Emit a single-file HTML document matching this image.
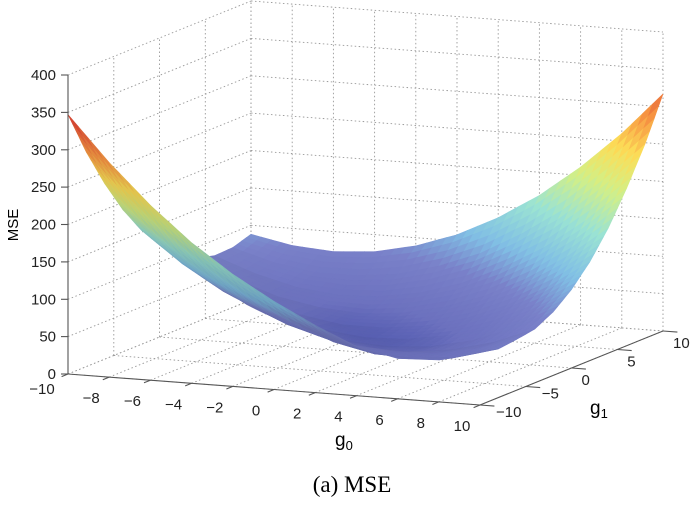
<!DOCTYPE html>
<html><head><meta charset="utf-8"><style>
body{margin:0;background:#fff}
svg{display:block;font-family:"Liberation Sans",sans-serif}
</style></head><body>
<svg id="chart" width="700" height="522" viewBox="0 0 700 522" xmlns="http://www.w3.org/2000/svg">
<g id="grid"></g>
<g id="surf"></g>
<g id="axes"></g>
<text x="18" y="225" font-size="15" text-anchor="middle" transform="rotate(-90 18 225)">MSE</text>
<text x="335" y="446" font-size="19">g<tspan font-size="13" dy="4">0</tspan></text>
<text x="590" y="414" font-size="19">g<tspan font-size="13" dy="4">1</tspan></text>
<text x="352" y="492" font-size="23" text-anchor="middle" font-family="Liberation Serif, serif">(a) MSE</text>
</svg>
<script>
const g0Values=[-10,-8,-6,-4,-2,0,2,4,6,8,10];
const g1Values=[-10,-8,-6,-4,-2,0,2,4,6,8,10];
// rows: g1 from -10 to 10; columns: g0 from -10 to 10
const mseGrid=[
[347,287,234,188,150,118,90,66,54,56,72],
[287,232,184,143,108,80,58,46,44,50,65],
[235,184,141,106,78,57,44,39,41,51,68],
[190,145,107,76,53,37,29,29,36,50,72],
[153,112,79,54,36,25,22,26,38,58,85],
[123,88,59,39,26,20,22,31,48,73,105],
[101,70,47,32,23,23,30,44,66,95,132],
[86,61,42,32,28,33,45,64,91,125,167],
[79,59,45,39,41,50,67,92,123,163,210],
[80,64,55,55,61,76,97,127,163,208,259],
[88,77,73,77,89,108,135,169,211,260,317]];
const zTicks=[0,50,100,150,200,250,300,350,400];
const g0Ticks=[-10,-8,-6,-4,-2,0,2,4,6,8,10];
const g1Ticks=[-10,-5,0,5,10];

const NS="http://www.w3.org/2000/svg";
const O=[68,374],U=[412,31],V=[183,-74],W=[0,-299];
function P(a,b,z){const u=(a+10)/20,v=(b+10)/20,w=z/400;
 return [O[0]+U[0]*u+V[0]*v+W[0]*w,O[1]+U[1]*u+V[1]*v+W[1]*w];}
function mk(tag,attrs,parent){const e=document.createElementNS(NS,tag);for(const k in attrs)e.setAttribute(k,attrs[k]);parent.appendChild(e);return e;}
const grid=document.getElementById('grid'),axes=document.getElementById('axes'),surf=document.getElementById('surf');
function line(p,q,par,st){return mk('line',Object.assign({x1:p[0].toFixed(1),y1:p[1].toFixed(1),x2:q[0].toFixed(1),y2:q[1].toFixed(1)},st),par);}
const dot={stroke:'#999','stroke-width':0.9,'stroke-dasharray':'1.5,2.5'};
zTicks.forEach(z=>{const a=line(P(-10,10,z),P(10,10,z),grid,dot);
 const b=line(P(-10,-10,z),P(-10,10,z),grid,dot);});
g0Ticks.forEach(x=>{const a=line(P(x,10,0),P(x,10,400),grid,dot);
 const b=line(P(x,-10,0),P(x,10,0),grid,dot);});
g1Ticks.forEach(y=>{const a=line(P(-10,y,0),P(-10,y,400),grid,dot);
 const b=line(P(-10,y,0),P(10,y,0),grid,dot);});

const stops=[[0,[60,70,160]],[0.1,[105,110,185]],[0.22,[118,125,195]],[0.32,[125,185,222]],[0.45,[150,220,205]],[0.58,[205,232,130]],[0.7,[245,215,85]],[0.82,[240,145,65]],[1,[205,45,45]]];
function col(z,shade){const t=Math.max(0,Math.min(1,z/350));let k=0;while(k<stops.length-2&&t>stops[k+1][0])k++;
 const a=stops[k],b=stops[k+1],f=(t-a[0])/(b[0]-a[0]);
 return 'rgb('+[0,1,2].map(i=>Math.min(255,Math.round((a[1][i]+(b[1][i]-a[1][i])*f)*shade))).join(',')+')';}
const S=4,cells=[];
function zAt(i,j,s,t){const z00=mseGrid[j][i],z10=mseGrid[j][i+1],z01=mseGrid[j+1][i],z11=mseGrid[j+1][i+1];
 return z00*(1-s)*(1-t)+z10*s*(1-t)+z01*(1-s)*t+z11*s*t;}
for(let j=0;j<g1Values.length-1;j++)for(let i=0;i<g0Values.length-1;i++){
 const dx=g0Values[i+1]-g0Values[i],dy=g1Values[j+1]-g1Values[j];
 for(let b=0;b<S;b++)for(let a=0;a<S;a++){
  const s0=a/S,s1=(a+1)/S,t0=b/S,t1=(b+1)/S;
  const x0=g0Values[i]+dx*s0,x1=g0Values[i]+dx*s1,y0=g1Values[j]+dy*t0,y1=g1Values[j]+dy*t1;
  const z=[zAt(i,j,s0,t0),zAt(i,j,s1,t0),zAt(i,j,s1,t1),zAt(i,j,s0,t1)];
  const pts=[P(x0,y0,z[0]),P(x1,y0,z[1]),P(x1,y1,z[2]),P(x0,y1,z[3])];
  const zm=(z[0]+z[1]+z[2]+z[3])/4;
  const depth=P((x0+x1)/2,(y0+y1)/2,0)[1];
  const dzdy=((z[3]+z[2])-(z[0]+z[1]))/2/(y1-y0);
  const tt=Math.min(1,zm/350);
  const shade=Math.max(0.7,Math.min(1.03,1+(1-tt)*dzdy*0.01));
  cells.push({pts,zm,depth,shade});
 }}
cells.sort((p,q)=>p.depth-q.depth);
cells.forEach(c=>{const f=col(c.zm,c.shade);
 const e=mk('polygon',{points:c.pts.map(p=>p[0].toFixed(1)+','+p[1].toFixed(1)).join(' '),fill:f,stroke:f,'stroke-width':0.6},surf);
 
 });
const ax={stroke:'#555','stroke-width':1.1};
let e=line(P(-10,-10,0),P(-10,-10,400),axes,ax);
e=line(P(-10,-10,0),P(10,-10,0),axes,ax);
e=line(P(10,-10,0),P(10,10,0),axes,ax);
zTicks.forEach(z=>{const p=P(-10,-10,z);line(p,[p[0]-7,p[1]],axes,ax);
 const t=mk('text',{x:p[0]-12,y:p[1]+5,'font-size':15,'text-anchor':'end',fill:'#222'},axes);t.textContent=z;
 });
g0Ticks.forEach(x=>{const p=P(x,-10,0),q=P(x,-9.3,0);line(p,[2*p[0]-q[0],2*p[1]-q[1]],axes,ax);
 const t=mk('text',{x:p[0]-(x===-10?26:18),y:p[1]+(x===-10?20:26),'font-size':15,'text-anchor':'middle',fill:'#222'},axes);t.textContent=(x<0?'\u2212'+(-x):x);
 });
g1Ticks.forEach(y=>{const p=P(10,y,0),q=P(9.3,y,0);line(p,[2*p[0]-q[0],2*p[1]-q[1]],axes,ax);
 const t=mk('text',{x:p[0]+(y<0?16:10),y:p[1]+(y<0?12:17),'font-size':15,'text-anchor':'start',fill:'#222'},axes);t.textContent=(y<0?'\u2212'+(-y):y);
 });
</script>
</body></html>
